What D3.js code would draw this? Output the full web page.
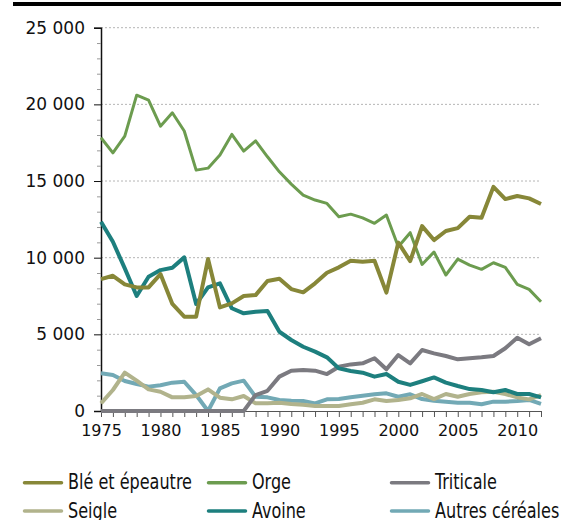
<!DOCTYPE html>
<html>
<head>
<meta charset="utf-8">
<script src="https://cdn.jsdelivr.net/npm/d3@7"></script>
<style>
body { margin:0; background:#fff; }
svg { display:block; }
.tick text { font-family:"DejaVu Sans", sans-serif; fill:#111; }
.legend text { font-family:"DejaVu Sans Condensed", "DejaVu Sans", sans-serif; font-stretch:condensed; font-size:21px; fill:#111; }
</style>
</head>
<body>
<svg id="chart"></svg>
<script>
//years on the x axis
var years = d3.range(1975, 2013)

//production values, one list per cereal
var ble = [8600,8820,8260,8060,8060,8930,6980,6150,6150,9910,6760,7020,7500,7560,8480,8630,
    7950,7740,8330,9020,9370,9800,9740,9800,7720,10980,9780,
    12060,11150,11740,11930,12670,12600,14620,13820,14020,13870,13500]
var orge = [17820,16840,17930,20600,20280,18580,19450,18260,15710,15840,16690,18040,16950,17620,16580,15600,
    14800,14080,13760,13540,12670,12840,12600,12240,12780,10710,11630,
    9560,10370,8870,9910,9520,9240,9670,9370,8260,7930,7130]
var triticale = [0,0,0,0,0,0,0,0,0,0,0,0,0,1040,1320,2240,
    2630,2670,2630,2410,2890,3040,3110,3440,2720,3650,3110,
    3980,3760,3590,3370,3440,3500,3590,4090,4780,4350,4740]
var seigle = [500,1370,2500,1980,1410,1260,890,890,980,1410,870,760,980,500,500,540,
    450,410,330,330,330,440,540,760,650,720,830,
    1110,780,1110,930,1110,1220,1260,1110,890,760,1040]
var avoine = [12340,11040,9300,7500,8760,9190,9340,10020,6980,8060,8330,6700,6370,6470,6520,5170,
    4630,4190,3870,3500,2780,2610,2500,2240,2410,1910,1700,
    1940,2190,1850,1630,1430,1370,1220,1370,1110,1110,890]
var autres = [2460,2350,1960,1760,1590,1680,1850,1910,1040,0,1480,1800,1980,930,890,720,
    670,660,500,760,780,890,1000,1090,1150,930,1090,
    780,670,610,540,540,440,610,610,650,720,460]

var seriesNames = ["Blé et épeautre","Orge","Triticale","Seigle","Avoine","Autres céréales"]
var seriesValues = [ble, orge, triticale, seigle, avoine, autres]
var seriesColors = ["#878738","#6c9c4f","#7b7a80","#b1b38c","#1d7f7e","#72a9b5"]
var seriesWidths = [4, 3, 4, 4, 4, 4]

//draw order, back to front
var drawOrder = [5, 3, 2, 4, 1, 0]

var yTicks = d3.range(0, 25001, 1000)
var xTicks = years

var screen = {width:561, height:520}
var margins = {top:27.7, bottom:109, left:101, right:20}

var svg = d3.select("#chart")
    .attr("width", screen.width)
    .attr("height", screen.height)

//black band at the top
svg.append("rect")
    .attr("x", 13).attr("y", 2)
    .attr("width", screen.width - 13).attr("height", 4)
    .attr("fill", "#000")

var xScale = d3.scaleLinear()
    .domain([1975, 2012])
    .range([margins.left, screen.width - margins.right])

var yScale = d3.scaleLinear()
    .domain([0, 25000])
    .range([screen.height - margins.bottom, margins.top])

var fmt = d3.formatLocale({decimal:",", thousands:"\u00a0", grouping:[3], currency:["","€"]}).format(",")

//dotted grid lines
svg.append("g")
    .selectAll("line")
    .data(yTicks.filter(function(d){ return d > 0 && d % 5000 == 0 }))
    .enter()
    .append("line")
    .attr("x1", xScale(1975)).attr("x2", xScale(2012))
    .attr("y1", function(d){ return yScale(d) })
    .attr("y2", function(d){ return yScale(d) })
    .attr("stroke", "#b5b5b5")
    .attr("stroke-width", 1)
    .attr("stroke-dasharray", "2,2")

//x axis
var xAxis = d3.axisBottom(xScale)
    .tickValues(xTicks)
    .tickSize(6)
    .tickPadding(8)
    .tickFormat(function(d){ return d % 5 == 0 ? d : "" })

var gx = svg.append("g")
    .attr("transform", "translate(0," + yScale(0) + ")")
    .call(xAxis)
gx.select(".domain").attr("stroke", "#555")
gx.selectAll(".tick line").attr("stroke", "#555")
gx.selectAll(".tick text").style("font-size", "16px")

//y axis
var yAxis = d3.axisLeft(yScale)
    .tickValues(yTicks)
    .tickSize(7)
    .tickPadding(9)
    .tickFormat(function(d){ return d % 5000 == 0 ? fmt(d) : "" })

var gy = svg.append("g")
    .attr("transform", "translate(" + xScale(1975) + ",0)")
    .call(yAxis)
gy.select(".domain").attr("stroke", "#111").attr("stroke-width", 1.5)
gy.selectAll(".tick text").style("font-size", "17px")
gy.selectAll(".tick line")
    .attr("stroke", function(d){ return d % 5000 == 0 ? "#111" : "#999" })
    .attr("x2", function(d){ return d % 5000 == 0 ? -7 : -4 })

//the lines
var line = d3.line()
    .x(function(d, i){ return xScale(years[i]) })
    .y(function(d){ return yScale(d) })

svg.append("g")
    .selectAll("path")
    .data(drawOrder)
    .enter()
    .append("path")
    .attr("d", function(k){ return line(seriesValues[k]) })
    .attr("fill", "none")
    .attr("stroke", function(k){ return seriesColors[k] })
    .attr("stroke-width", function(k){ return seriesWidths[k] })
    .attr("stroke-linejoin", "round")

//legend in two rows of three
var colX = [23, 207, 390]
var rowY = [482.7, 511]

var legend = svg.append("g")
    .classed("legend", true)
    .selectAll("g")
    .data(seriesNames)
    .enter()
    .append("g")
    .attr("transform", function(d, i){
        return "translate(" + colX[i % 3] + "," + rowY[Math.floor(i / 3)] + ")"
    })

legend.append("line")
    .attr("x1", 1.5).attr("x2", 38.5)
    .attr("y1", 0).attr("y2", 0)
    .attr("stroke", function(d, i){ return seriesColors[i] })
    .attr("stroke-width", 3.5)
    .attr("stroke-linecap", "round")

legend.append("text")
    .attr("transform", "translate(45,6.5) scale(0.85,1)")
    .text(function(d){ return d })
</script>
</body>
</html>
